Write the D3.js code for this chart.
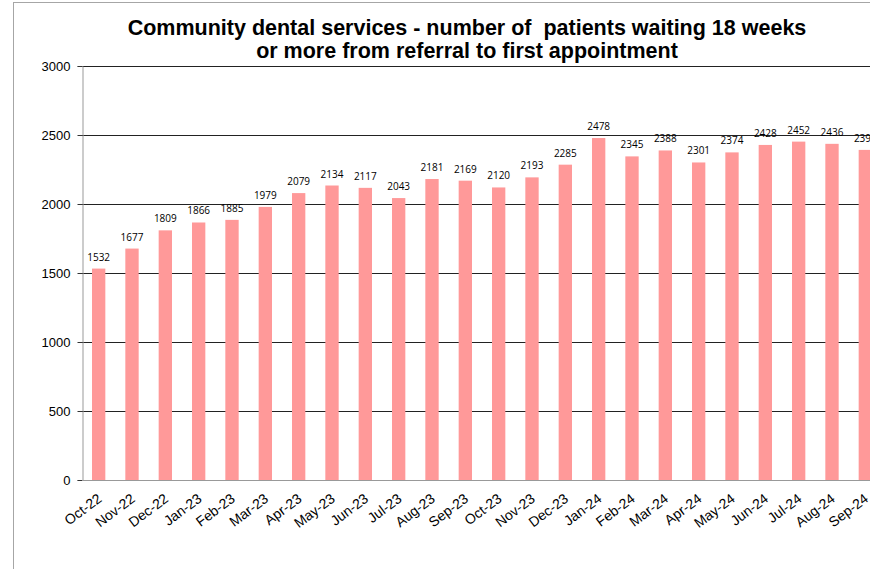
<!DOCTYPE html>
<html>
<head>
<meta charset="utf-8">
<script src="https://cdn.jsdelivr.net/npm/d3@7"></script>
<style>
  html, body { margin: 0; padding: 0; background: #fff; }
  svg { display: block; }
</style>
</head>
<body>
<svg id="chart" width="870" height="569"></svg>
<script>
// Monthly counts of community dental patients waiting 18+ weeks
const months = ["Oct-22","Nov-22","Dec-22","Jan-23","Feb-23","Mar-23","Apr-23","May-23","Jun-23","Jul-23","Aug-23","Sep-23",
                "Oct-23","Nov-23","Dec-23","Jan-24","Feb-24","Mar-24","Apr-24","May-24","Jun-24","Jul-24","Aug-24","Sep-24"];
const patients = [1532,1677,1809,1866,1885,1979,2079,2134,2117,2043,2181,2169,
                  2120,2193,2285,2478,2345,2388,2301,2374,2428,2452,2436,2392];
const yTicks = [0,500,1000,1500,2000,2500,3000];
const titleLines = ["Community dental services - number of  patients waiting 18 weeks",
                    "or more from referral to first appointment"];

const svg = d3.select("#chart");
const W = 870, H = 569;

// Outer chart frame
svg.append("rect")
  .attr("x", 13.5).attr("y", 2.5)
  .attr("width", 900).attr("height", 600)
  .attr("fill", "none").attr("stroke", "#a6a6a6").attr("stroke-width", 1);

const plot = { left: 82, right: 882, top: 66, bottom: 480 };

const x = d3.scaleBand()
  .domain(months)
  .range([plot.left, plot.right])
  .paddingInner(0.6)
  .paddingOuter(0.3);

const y = d3.scaleLinear()
  .domain([0, 3000])
  .range([plot.bottom, plot.top]);

// Horizontal gridlines
svg.append("g")
  .selectAll("line")
  .data(yTicks.filter(d => d > 0))
  .join("line")
  .attr("x1", plot.left).attr("x2", W)
  .attr("y1", d => Math.round(y(d)) + 0.5).attr("y2", d => Math.round(y(d)) + 0.5)
  .attr("stroke", "#222").attr("stroke-width", 1);

// Bars
svg.append("g")
  .selectAll("rect")
  .data(patients)
  .join("rect")
  .attr("x", (d, i) => x(months[i]))
  .attr("y", d => y(d))
  .attr("width", x.bandwidth())
  .attr("height", d => y(0) - y(d))
  .attr("fill", "#ff9999");

// Value labels
svg.append("g")
  .selectAll("text")
  .data(patients)
  .join("text")
  .attr("x", (d, i) => x(months[i]) + x.bandwidth() / 2)
  .attr("y", d => y(d) - 8)
  .attr("text-anchor", "middle")
  .attr("font-family", "'Open Sans', 'Liberation Sans', sans-serif")
  .attr("font-size", 10)
  .attr("fill", "#000")
  .text(d => d);

// Y axis
const yAxis = svg.append("g")
  .attr("transform", `translate(${plot.left + 0.5},0)`)
  .call(d3.axisLeft(y).tickValues(yTicks).tickSize(5).tickPadding(7).tickFormat(d3.format("d")));
yAxis.select(".domain").attr("stroke", "#999");
yAxis.selectAll(".tick line").attr("stroke", "#333");
yAxis.selectAll("text")
  .attr("font-family", "'Liberation Sans', Arial, sans-serif")
  .attr("font-size", 13).attr("fill", "#000");

// X axis with slanted month labels
const xAxis = svg.append("g")
  .attr("transform", `translate(0,${plot.bottom + 0.5})`)
  .call(d3.axisBottom(x).tickSize(0).tickSizeOuter(0));
xAxis.select(".domain").attr("stroke", "#999").attr("d", `M${plot.left},0H${W}`);
xAxis.selectAll("text")
  .attr("font-family", "'Liberation Sans', Arial, sans-serif")
  .attr("font-size", 14).attr("fill", "#000")
  .attr("text-anchor", "end")
  .attr("y", 0).attr("dy", 0)
  .attr("transform", "translate(4,20) rotate(-37)");

// Title
svg.append("g")
  .selectAll("text")
  .data(titleLines)
  .join("text")
  .attr("x", 467)
  .attr("y", (d, i) => 35 + i * 23)
  .attr("text-anchor", "middle")
  .attr("font-family", "'Liberation Sans', Arial, sans-serif")
  .attr("font-weight", "bold")
  .attr("font-size", 21.5)
  .attr("fill", "#000")
  .style("white-space", "pre")
  .text(d => d);
</script>
</body>
</html>
